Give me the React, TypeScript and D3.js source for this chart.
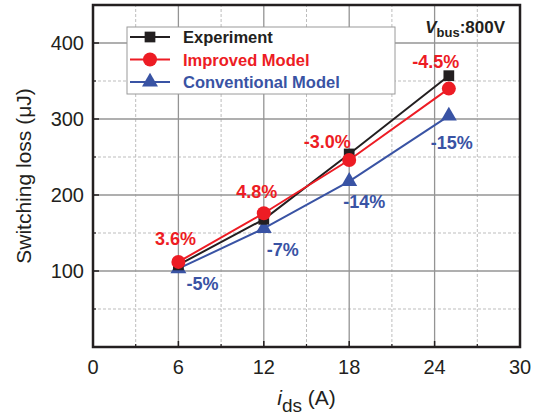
import * as d3 from 'd3';
import React from 'react';

// current in A
const currents = [6, 12, 18, 25];
// switching loss (uJ)
const experiment = [108, 168, 254, 357];
const improvedModel = [112, 176, 246, 340];
const conventionalModel = [103, 156, 218, 304];
// error labels
const improvedErrors = ['3.6%', '4.8%', '-3.0%', '-4.5%'];
const conventionalErrors = ['-5%', '-7%', '-14%', '-15%'];

const xTicks = [0, 6, 12, 18, 24, 30];
const yTicks = [100, 200, 300, 400];

const W = 545;
const H = 418;
const m = { left: 93, right: 25, top: 5, bottom: 71 };

const BLACK = '#231f20';
const RED = '#ed1c24';
const BLUE = '#3953a4';
const FONT = 'Liberation Sans, Arial, Helvetica, sans-serif';

// label offsets relative to the marker (px)
const improvedOffsets: [number, number][] = [[-3, -17], [-7, -15], [-22, -12], [-13, -21]];
const conventionalOffsets: [number, number][] = [[24, 21], [19, 28], [15, 27], [3, 33]];

const App: React.FC = () => {
  const x = d3.scaleLinear().domain([0, 30]).range([m.left, W - m.right]);
  const y = d3.scaleLinear().domain([0, 450]).range([H - m.bottom, m.top]);

  const line = d3.line<[number, number]>()
    .x(d => x(d[0]))
    .y(d => y(d[1]));

  const pts = (vals: number[]) => currents.map((c, i) => [c, vals[i]] as [number, number]);

  const xMinor = d3.range(3, 30, 6);
  const yMinor = d3.range(50, 450, 100);

  const tri = d3.symbol().type(d3.symbolTriangle).size(110)();
  const sq = d3.symbol().type(d3.symbolSquare).size(115)();

  const x0 = m.left, x1 = W - m.right, y0 = H - m.bottom, y1 = m.top;

  return (
    <svg width={W} height={H} style={{ position: 'absolute', left: 0, top: 0, background: '#fff' }}
      fontFamily={FONT}>
      {/* grid */}
      {xMinor.map(v => (
        <line key={'xm' + v} x1={x(v)} x2={x(v)} y1={y0} y2={y1} stroke="#bdbdbd" strokeDasharray="3,2" />
      ))}
      {yMinor.map(v => (
        <line key={'ym' + v} x1={x0} x2={x1} y1={y(v)} y2={y(v)} stroke="#bdbdbd" strokeDasharray="3,2" />
      ))}
      {xTicks.slice(1, -1).map(v => (
        <line key={'xg' + v} x1={x(v)} x2={x(v)} y1={y0} y2={y1} stroke="#949494" strokeWidth={1.3} />
      ))}
      {yTicks.map(v => (
        <line key={'yg' + v} x1={x0} x2={x1} y1={y(v)} y2={y(v)} stroke="#949494" strokeWidth={1.3} />
      ))}

      {/* ticks */}
      {xTicks.map(v => (
        <line key={'xt' + v} x1={x(v)} x2={x(v)} y1={y0} y2={y0 - 6} stroke={BLACK} strokeWidth={1.5} />
      ))}
      {xMinor.map(v => (
        <line key={'xmt' + v} x1={x(v)} x2={x(v)} y1={y0} y2={y0 - 3} stroke={BLACK} strokeWidth={1.2} />
      ))}
      {yTicks.map(v => (
        <line key={'yt' + v} x1={x0} x2={x0 + 6} y1={y(v)} y2={y(v)} stroke={BLACK} strokeWidth={1.5} />
      ))}
      {yMinor.map(v => (
        <line key={'ymt' + v} x1={x0} x2={x0 + 3} y1={y(v)} y2={y(v)} stroke={BLACK} strokeWidth={1.2} />
      ))}

      {/* frame */}
      <rect x={x0} y={y1} width={x1 - x0} height={y0 - y1} fill="none" stroke={BLACK} strokeWidth={2.5} />

      {/* tick labels */}
      {xTicks.map(v => (
        <text key={'xl' + v} x={x(v)} y={y0 + 27} textAnchor="middle" fontSize={20} fill={BLACK}>{v}</text>
      ))}
      {yTicks.map(v => (
        <text key={'yl' + v} x={x0 - 9} y={y(v) + 7} textAnchor="end" fontSize={20} fill={BLACK}>{v}</text>
      ))}

      {/* axis titles */}
      <text transform={`translate(31,${(y0 + y1) / 2}) rotate(-90)`} textAnchor="middle" fontSize={21} fill={BLACK}>
        Switching loss (μJ)
      </text>
      <text x={(x0 + x1) / 2} y={405} textAnchor="middle" fontSize={21} fill={BLACK}>
        <tspan fontStyle="italic">i</tspan>
        <tspan fontSize={19} dy={7}>ds</tspan>
        <tspan dy={-7}> (A)</tspan>
      </text>

      {/* series */}
      <path d={line(pts(conventionalModel)) || ''} fill="none" stroke={BLUE} strokeWidth={2} />
      <path d={line(pts(experiment)) || ''} fill="none" stroke={BLACK} strokeWidth={2} />
      <path d={line(pts(improvedModel)) || ''} fill="none" stroke={RED} strokeWidth={2} />

      {pts(conventionalModel).map((p, i) => (
        <path key={'ct' + i} d={tri || ''} transform={`translate(${x(p[0])},${y(p[1])})`} fill={BLUE} />
      ))}
      {pts(experiment).map((p, i) => (
        <path key={'es' + i} d={sq || ''} transform={`translate(${x(p[0])},${y(p[1])})`} fill={BLACK} />
      ))}
      {pts(improvedModel).map((p, i) => (
        <circle key={'ic' + i} cx={x(p[0])} cy={y(p[1])} r={7} fill={RED} />
      ))}

      {/* error labels */}
      {pts(improvedModel).map((p, i) => (
        <text key={'il' + i} x={x(p[0]) + improvedOffsets[i][0]} y={y(p[1]) + improvedOffsets[i][1]}
          textAnchor="middle" fontSize={18} fontWeight="bold" fill={RED}>{improvedErrors[i]}</text>
      ))}
      {pts(conventionalModel).map((p, i) => (
        <text key={'cl' + i} x={x(p[0]) + conventionalOffsets[i][0]} y={y(p[1]) + conventionalOffsets[i][1]}
          textAnchor="middle" fontSize={18} fontWeight="bold" fill={BLUE}>{conventionalErrors[i]}</text>
      ))}

      {/* Vbus label */}
      <text x={505} y={33} textAnchor="end" fontSize={17} fontWeight="bold" fill={BLACK}>
        <tspan fontStyle="italic">V</tspan>
        <tspan fontSize={13} dy={4}>bus</tspan>
        <tspan dy={-4}>:800V</tspan>
      </text>

      {/* legend */}
      <rect x={127} y={27} width={268} height={67} fill="#fff" stroke="#9a9a9a" strokeWidth={1} />
      {[
        { name: 'Experiment', color: BLACK, kind: 'sq' },
        { name: 'Improved Model', color: RED, kind: 'ci' },
        { name: 'Conventional Model', color: BLUE, kind: 'tr' },
      ].map((s, i) => {
        const ly = 37 + i * 22.5;
        return (
          <g key={s.name}>
            <line x1={130} x2={170} y1={ly} y2={ly} stroke={s.color} strokeWidth={2} />
            {s.kind === 'sq' && <path d={sq || ''} transform={`translate(150,${ly})`} fill={s.color} />}
            {s.kind === 'ci' && <circle cx={150} cy={ly} r={7} fill={s.color} />}
            {s.kind === 'tr' && <path d={tri || ''} transform={`translate(150,${ly})`} fill={s.color} />}
            <text x={183} y={ly + 6} fontSize={16.5} fontWeight="bold" fill={s.color}>{s.name}</text>
          </g>
        );
      })}
    </svg>
  );
};

export default App;
